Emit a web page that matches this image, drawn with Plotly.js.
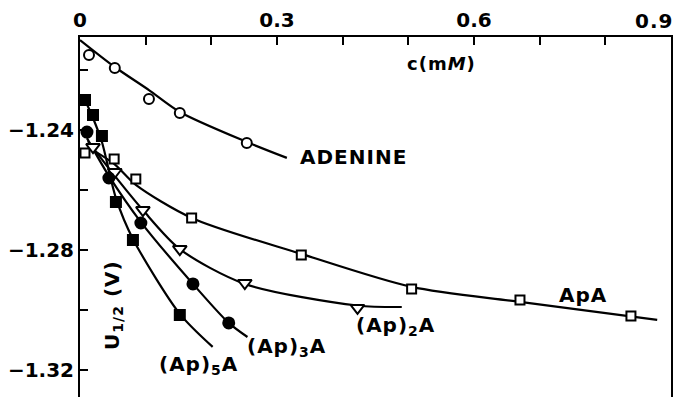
<!DOCTYPE html>
<html>
<head>
<meta charset="utf-8">
<script src="https://cdn.plot.ly/plotly-3.0.1.min.js"></script>
<style>
html,body{margin:0;padding:0;background:#fff;}
#chart{width:678px;height:397px;}
.annotation-text{letter-spacing:1px;}
</style>
</head>
<body>
<div id="chart"></div>
<script>
// ---- Data (c in mM, U1/2 in V) ----
const adenineC = [0.0137, 0.053, 0.105, 0.152, 0.254];
const adenineU = [-1.215, -1.2193, -1.2297, -1.2343, -1.2443];
const adenineFitC = [0, 0.053, 0.105, 0.152, 0.254, 0.315];
const adenineFitU = [-1.210, -1.219, -1.2267, -1.234, -1.244, -1.2493];

const apaC = [0.0076, 0.052, 0.085, 0.170, 0.337, 0.505, 0.670, 0.839];
const apaU = [-1.2477, -1.2497, -1.2563, -1.2693, -1.2817, -1.293, -1.2967, -1.302];
const apaFitC = [0.012, 0.052, 0.085, 0.170, 0.337, 0.505, 0.670, 0.879];
const apaFitU = [-1.2457, -1.2513, -1.2583, -1.2693, -1.2813, -1.2923, -1.2973, -1.3033];

const ap2aC = [0.0198, 0.053, 0.0958, 0.152, 0.251, 0.4226];
const ap2aU = [-1.2457, -1.254, -1.2667, -1.2797, -1.291, -1.2993];
const ap2aFitC = [0.012, 0.053, 0.0958, 0.152, 0.251, 0.4226, 0.49];
const ap2aFitU = [-1.2437, -1.2553, -1.2667, -1.2797, -1.2913, -1.2985, -1.299];

const ap3aC = [0.0106, 0.044, 0.0927, 0.172, 0.2265];
const ap3aU = [-1.2407, -1.256, -1.271, -1.2913, -1.3043];
const ap3aFitC = [0.0106, 0.044, 0.0927, 0.172, 0.2265, 0.255];
const ap3aFitU = [-1.2427, -1.2553, -1.2707, -1.2913, -1.3043, -1.309];

const ap5aC = [0.0076, 0.0198, 0.0334, 0.0547, 0.0806, 0.152];
const ap5aU = [-1.230, -1.235, -1.242, -1.264, -1.2767, -1.3017];
const ap5aFitC = [0.0076, 0.0198, 0.0334, 0.0547, 0.0806, 0.152, 0.202];
const ap5aFitU = [-1.230, -1.236, -1.244, -1.2627, -1.2763, -1.3013, -1.3123];

// tick labels; the last one (0.9, at the right edge) is drawn right-aligned to its tick
const xTickVals = [0, 0.3, 0.6, 0.9];
const xTickText = ['0', '0.3', '0.6', '0.9'];
const yTickVals = [-1.24, -1.28, -1.32];
const yTickText = ['\u22121.24', '\u22121.28', '\u22121.32'];

const seriesLabels = ['ADENINE', 'ApA', '(Ap)<sub>2</sub>A', '(Ap)<sub>3</sub>A', '(Ap)<sub>5</sub>A'];
const labelC = [0.4172, 0.766, 0.4797, 0.3152, 0.1812];
const labelU = [-1.249, -1.295, -1.3053, -1.3123, -1.3183];

// ---- Traces ----
function fit(x, y) {
  return {x: x, y: y, mode: 'lines', line: {shape: 'spline', smoothing: 0.8, color: '#000', width: 2.2},
          hoverinfo: 'skip', showlegend: false};
}
function pts(x, y, symbol, filled, size) {
  return {x: x, y: y, mode: 'markers', showlegend: false,
          marker: {symbol: symbol, size: size, color: filled ? '#000' : '#fff',
                   line: {color: '#000', width: 2}}};
}

const data = [
  fit(adenineFitC, adenineFitU),
  fit(apaFitC, apaFitU),
  fit(ap2aFitC, ap2aFitU),
  fit(ap3aFitC, ap3aFitU),
  fit(ap5aFitC, ap5aFitU),
  pts(adenineC, adenineU, 'circle', false, 10),
  pts(apaC, apaU, 'square', false, 9),
  pts(ap2aC, ap2aU, 'triangle-down', false, 12),
  pts(ap3aC, ap3aU, 'circle', true, 11),
  pts(ap5aC, ap5aU, 'square', true, 10)
];

const tickFont = {family: 'DejaVu Sans', size: 20, color: '#000', weight: 'bold'};
const labelFont = {family: 'DejaVu Sans', size: 20, color: '#000', weight: 'bold'};
const annotations = seriesLabels.map((s, i) => ({
  x: labelC[i], y: labelU[i], xref: 'x', yref: 'y', text: s, showarrow: false, font: labelFont
}));
annotations.push({
  x: 0.5512, y: -1.2177, xref: 'x', yref: 'y', text: 'c(m<i>M</i>)', showarrow: false,
  font: {family: 'DejaVu Sans', size: 18, color: '#000', weight: 'bold'}
});
annotations.push({
  x: 0.0503, y: -1.2983, xref: 'x', yref: 'y', text: 'U<sub>1/2</sub> (V)', showarrow: false,
  textangle: -90, font: labelFont
});
// last x tick label, right-aligned so it stays inside the picture
const lastIdx = xTickVals.length - 1;
annotations.push({
  x: xTickVals[lastIdx], y: 1, xref: 'x', yref: 'paper', text: xTickText[lastIdx], showarrow: false,
  xanchor: 'right', yanchor: 'middle', xshift: 4, yshift: 16, font: tickFont
});

const layout = {
  width: 678, height: 397,
  margin: {l: 80, r: 7, t: 37, b: 0, pad: 0},
  paper_bgcolor: '#fff', plot_bgcolor: '#fff',
  showlegend: false,
  font: {family: 'DejaVu Sans', color: '#000', size: 20},
  xaxis: {
    side: 'top', range: [0, 0.9], tickmode: 'array',
    tickvals: xTickVals.slice(0, lastIdx), ticktext: xTickText.slice(0, lastIdx),
    ticks: 'inside', ticklen: 8, tickwidth: 2, tickcolor: '#000',
    minor: {dtick: 0.1, tick0: 0, ticks: 'inside', ticklen: 8, tickwidth: 2, tickcolor: '#000', showgrid: false},
    showline: true, linewidth: 2, linecolor: '#000', mirror: false,
    showgrid: false, zeroline: false, tickfont: tickFont
  },
  yaxis: {
    range: [-1.329, -1.209], tickmode: 'array', tickvals: yTickVals, ticktext: yTickText,
    ticks: 'inside', ticklen: 8, tickwidth: 2, tickcolor: '#000',
    minor: {dtick: 0.02, tick0: -1.24, ticks: 'inside', ticklen: 8, tickwidth: 2, tickcolor: '#000', showgrid: false},
    ticklabeloverflow: 'allow',
    showline: true, linewidth: 2, linecolor: '#000', mirror: true,
    showgrid: false, zeroline: false, tickfont: tickFont
  },
  annotations: annotations
};

Plotly.newPlot('chart', data, layout, {staticPlot: true, displayModeBar: false});
</script>
</body>
</html>
